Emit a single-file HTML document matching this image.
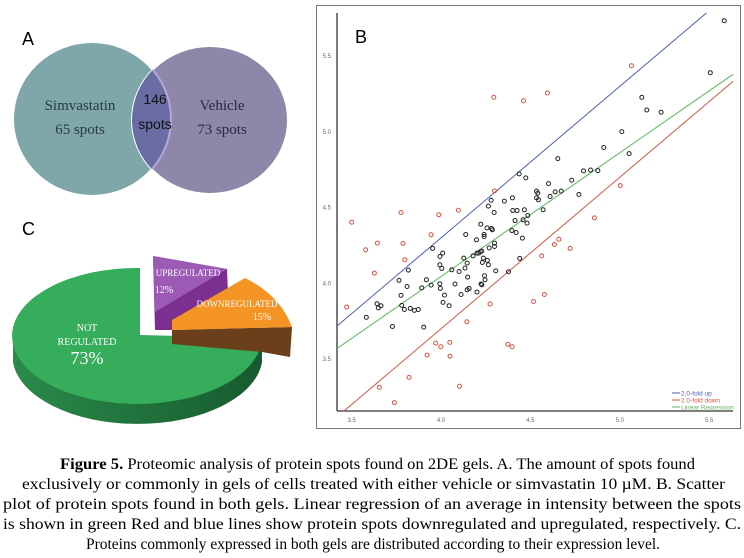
<!DOCTYPE html>
<html><head><meta charset="utf-8"><style>
body{margin:0;background:#fff;width:744px;height:558px;overflow:hidden}
svg{display:block}
</style></head><body>
<svg width="744" height="558" viewBox="0 0 744 558" xmlns="http://www.w3.org/2000/svg">
<g>
<text x="22" y="45" font-family="Liberation Sans, sans-serif" font-size="18">A</text>
<ellipse cx="92" cy="119" rx="79" ry="77" fill="#7fa7aa" stroke="#fff" stroke-width="2"/>
<ellipse cx="210" cy="120" rx="78" ry="74" fill="#8e87aa" stroke="#fff" stroke-width="2"/>
<clipPath id="cl"><ellipse cx="92" cy="119" rx="79" ry="77"/></clipPath>
<clipPath id="cr2"><ellipse cx="210" cy="120" rx="78" ry="74"/></clipPath>
<ellipse cx="210" cy="120" rx="78" ry="74" fill="#6a6da3" clip-path="url(#cl)"/>
<ellipse cx="92" cy="119" rx="79" ry="77" fill="none" stroke="#b3a8d8" stroke-width="2" clip-path="url(#cr2)"/>
<text x="80" y="110" text-anchor="middle" font-family="Liberation Serif, serif" font-size="15" fill="#2a3a3c">Simvastatin</text>
<text x="80" y="134" text-anchor="middle" font-family="Liberation Serif, serif" font-size="15" fill="#2a3a3c">65 spots</text>
<text x="222" y="110" text-anchor="middle" font-family="Liberation Serif, serif" font-size="15" fill="#2a2a3c">Vehicle</text>
<text x="222" y="134" text-anchor="middle" font-family="Liberation Serif, serif" font-size="15" fill="#2a2a3c">73 spots</text>
<text x="155" y="104" text-anchor="middle" font-family="Liberation Sans, sans-serif" font-size="14" fill="#111">146</text>
<text x="155" y="129" text-anchor="middle" font-family="Liberation Sans, sans-serif" font-size="14" fill="#111">spots</text>
</g>
<g>
<text x="22" y="235" font-family="Liberation Sans, sans-serif" font-size="18">C</text>
<defs><linearGradient id="gs" x1="0" x2="1"><stop offset="0" stop-color="#2a8a4a"/><stop offset="0.6" stop-color="#1e6e3a"/><stop offset="1" stop-color="#175a30"/></linearGradient></defs>
<path d="M13,335 A125,68 0 0 0 262,335 L262,362 A125,68 0 0 1 13,362 Z" fill="url(#gs)"/>
<path d="M140,335 L140,268 A125,68 0 1 0 262,338 Z" fill="#35ad5a"/>
<polygon points="153,256 227,269 228,293 174,330 155,330" fill="#7b2f90"/>
<polygon points="153,256 227,269 155,312" fill="#9b5bb5"/>
<path d="M172,330 L292,327 L290,357 L262,352 L172,344 Z" fill="#6a3f1a"/>
<path d="M172,320 L245,278 Q280,295 292,327 L172,330 Z" fill="#f39424"/>
<g font-family="Liberation Serif, serif" fill="#fff" text-anchor="middle">
<text x="188" y="276" font-size="9">UPREGULATED</text>
<text x="164" y="293" font-size="10">12%</text>
<text x="237" y="307" font-size="9">DOWNREGULATED</text>
<text x="262" y="320" font-size="10">15%</text>
<text x="87" y="331" font-size="10">NOT</text>
<text x="87" y="345" font-size="10">REGULATED</text>
<text x="87" y="364" font-size="18">73%</text>
</g>
</g>
<g id="scatter">
<rect x="316.5" y="5.5" width="424" height="423" fill="none" stroke="#777" stroke-width="1"/>
<text x="355" y="43" font-family="Liberation Sans, sans-serif" font-size="18">B</text>
</g>
<g font-family="Liberation Serif, serif" font-size="16" fill="#000">
<text x="60" y="469" textLength="635" lengthAdjust="spacingAndGlyphs"><tspan font-weight="bold">Figure 5.</tspan> Proteomic analysis of protein spots found on 2DE gels. A. The amount of spots found</text>
<text x="22" y="489" textLength="703" lengthAdjust="spacingAndGlyphs">exclusively or commonly in gels of cells treated with either vehicle or simvastatin 10 µM. B. Scatter</text>
<text x="3" y="509" textLength="738" lengthAdjust="spacingAndGlyphs">plot of protein spots found in both gels. Linear regression of an average in intensity between the spots</text>
<text x="3" y="529" textLength="738" lengthAdjust="spacingAndGlyphs">is shown in green Red and blue lines show protein spots downregulated and upregulated, respectively. C.</text>
<text x="86" y="549" textLength="574" lengthAdjust="spacingAndGlyphs">Proteins commonly expressed in both gels are distributed according to their expression level.</text>
</g>
</svg>
<script>
const xTicks=[3.5,4.0,4.5,5.0,5.5];
const yTicks=[3.5,4.0,4.5,5.0,5.5];
const blackX=[5.584,5.506,5.123,5.151,5.231,5.011,4.910,5.052,4.653,4.797,4.836,4.877,4.731,4.437,4.474,4.601,4.534,4.541,4.638,4.672,4.610,4.771,4.534,4.545,4.571,4.399,4.354,4.280,4.265,4.297,4.401,4.425,4.466,4.485,4.414,4.459,4.481,4.396,4.420,4.455,4.222,4.257,4.282,4.287,4.241,4.241,4.299,4.299,4.269,4.198,4.138,3.953,4.009,3.994,4.211,4.220,4.228,4.201,4.179,4.127,4.146,4.134,4.237,4.259,4.231,4.265,4.306,4.060,4.101,3.993,4.004,3.817,3.765,3.810,3.918,3.944,3.993,3.996,4.078,4.019,4.011,4.045,4.149,4.157,4.146,4.228,4.224,4.243,4.201,4.246,4.112,3.892,3.776,3.780,3.795,3.828,3.851,3.873,3.642,3.649,3.664,3.582,3.728,3.903,4.377,4.440];
const blackY=[5.733,5.390,5.227,5.144,5.129,5.001,4.896,4.856,4.823,4.742,4.748,4.744,4.680,4.722,4.696,4.658,4.608,4.595,4.603,4.608,4.573,4.586,4.564,4.551,4.485,4.564,4.542,4.548,4.509,4.467,4.480,4.480,4.485,4.447,4.414,4.419,4.397,4.348,4.335,4.298,4.390,4.366,4.362,4.353,4.322,4.309,4.265,4.243,4.234,4.287,4.322,4.230,4.199,4.177,4.199,4.208,4.212,4.199,4.181,4.166,4.133,4.100,4.166,4.151,4.137,4.122,4.082,4.089,4.078,4.122,4.098,4.087,4.019,3.979,4.023,3.988,3.997,3.966,3.995,3.922,3.874,3.852,4.041,3.966,3.957,3.990,3.995,4.050,3.942,4.023,3.926,3.970,3.920,3.854,3.827,3.834,3.821,3.827,3.865,3.838,3.852,3.775,3.715,3.711,4.076,4.164];
const redX=[3.472,3.5,3.578,3.627,3.644,3.787,3.776,3.797,3.944,3.987,4.097,4.295,4.461,4.595,5.065,4.299,3.655,3.739,3.821,3.922,3.970,3.998,4.049,4.050,4.103,4.144,4.274,4.373,4.397,4.517,4.578,4.563,4.634,4.659,4.722,4.858,5.002];
const redY=[3.843,4.403,4.221,4.067,4.265,4.263,4.467,4.155,4.320,4.452,4.482,5.227,5.205,5.256,5.436,4.610,3.313,3.212,3.379,3.526,3.605,3.581,3.610,3.518,3.320,3.746,3.863,3.597,3.581,3.880,3.926,4.181,4.256,4.291,4.230,4.432,4.645];
const lineOffsets=[0.30,-0.30];
const regSlope=0.817, regIntercept=0.777;
const legendLabels=["2.0-fold up","2.0-fold down","Linear Regression"];
const xMin=3.418,xMax=5.633,yMin=3.157,yMax=5.784;
const L=337,R=733,T=13,B=411;
const sx=v=>L+(v-xMin)/(xMax-xMin)*(R-L);
const sy=v=>B-(v-yMin)/(yMax-yMin)*(B-T);
const NS='http://www.w3.org/2000/svg';
const g=document.getElementById('scatter');
function mk(tag,at){const e=document.createElementNS(NS,tag);for(const k in at)e.setAttribute(k,at[k]);g.appendChild(e);return e;}
const clip=document.createElementNS(NS,'clipPath');clip.id='pc';const cr=document.createElementNS(NS,'rect');
cr.setAttribute('x',L);cr.setAttribute('y',T);cr.setAttribute('width',R-L);cr.setAttribute('height',B-T);clip.appendChild(cr);g.appendChild(clip);
let e;
e=mk('line',{x1:L,y1:T,x2:L,y2:B,stroke:'#333','stroke-width':1.3});


e=mk('line',{x1:L,y1:B,x2:R,y2:B,stroke:'#333','stroke-width':1.3});


xTicks.forEach(t=>{e=mk('text',{x:sx(t),y:B+11,'font-size':6,'text-anchor':'middle',fill:'#666','font-family':'Liberation Sans, sans-serif'});e.textContent=t.toFixed(1);

});
yTicks.forEach(t=>{e=mk('text',{x:L-6,y:sy(t)+2,'font-size':6,'text-anchor':'end',fill:'#666','font-family':'Liberation Sans, sans-serif'});e.textContent=t.toFixed(1);

});
const cols=['#4a5cb8','#d9533e'];
lineOffsets.forEach((o,i)=>{e=mk('line',{x1:sx(xMin),y1:sy(xMin+o),x2:sx(xMax),y2:sy(xMax+o),stroke:cols[i],'stroke-width':1,'clip-path':'url(#pc)'});

});
e=mk('line',{x1:sx(xMin),y1:sy(regSlope*xMin+regIntercept),x2:sx(xMax),y2:sy(regSlope*xMax+regIntercept),stroke:'#5cb85c','stroke-width':1,'clip-path':'url(#pc)'});


redX.forEach((x,i)=>{e=mk('circle',{cx:sx(x),cy:sy(redY[i]),r:2,fill:'none',stroke:'#d9533e','stroke-width':1});

});
blackX.forEach((x,i)=>{e=mk('circle',{cx:sx(x),cy:sy(blackY[i]),r:2,fill:'none',stroke:'#222','stroke-width':1});

});
const lc=['#4a5cb8','#d9533e','#5cb85c'];
legendLabels.forEach((s,i)=>{const y=393+i*7;
e=mk('line',{x1:672,y1:y,x2:680,y2:y,stroke:lc[i],'stroke-width':1});


e=mk('text',{x:681,y:y+2.5,'font-size':6.5,fill:lc[i],'font-family':'Liberation Sans, sans-serif'});e.textContent=s;

});
</script>
</body></html>
